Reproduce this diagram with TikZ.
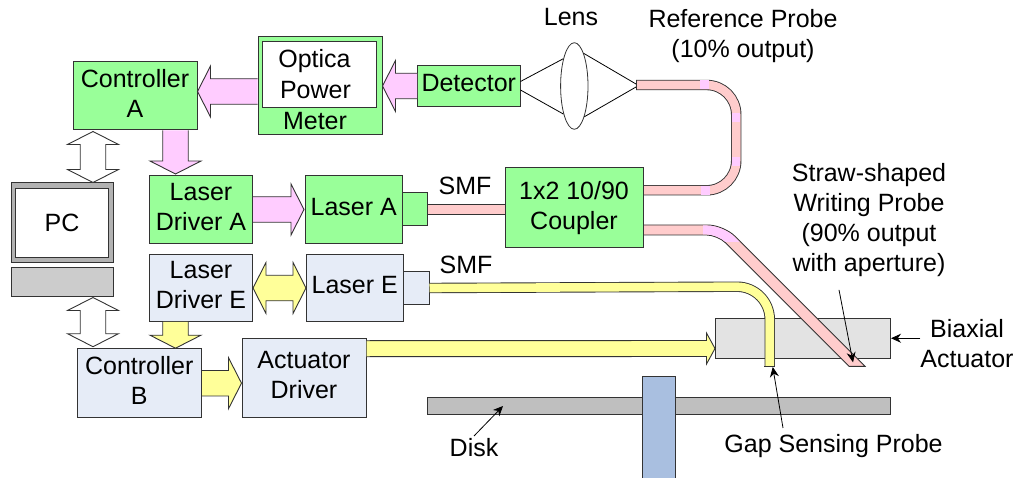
\documentclass[tikz,border=0pt]{standalone}
\usepackage{fontspec}
\setmainfont{Liberation Sans}
\usepackage{tikz}
\usetikzlibrary{arrows.meta,shapes,calc}

\definecolor{boxgreen}{HTML}{99FF99}
\definecolor{boxblue}{HTML}{E6ECF7}
\definecolor{armpink}{HTML}{FFCCFF}
\definecolor{armyellow}{HTML}{FFFF99}
\definecolor{fiberpink}{HTML}{FFCCCC}
\definecolor{spindleblue}{HTML}{A9BFE0}

\newcommand{\shaftw}{12.75pt}
\newcommand{\headw}{25.5pt}
\newcommand{\headl}{13pt}

\newcommand{\fatarrow}[3][armpink]{
  \path (#2) coordinate (fs) (#3) coordinate (ft);
  \draw[fat,fill=#1] ($(fs)!\shaftw!90:(ft)$)
    -- ($(ft)!\headl!(fs)!\shaftw!90:(ft)$)
    -- ($(ft)!\headl!(fs)!\headw!90:(ft)$)
    -- (ft)
    -- ($(ft)!\headl!(fs)!\headw!-90:(ft)$)
    -- ($(ft)!\headl!(fs)!\shaftw!-90:(ft)$)
    -- ($(fs)!\shaftw!-90:(ft)$);
}
\newcommand{\fatdouble}[3][white]{
  \path (#2) coordinate (fs) (#3) coordinate (ft);
  \draw[fat,fill=#1] (fs)
    -- ($(fs)!\headl!(ft)!\headw!90:(ft)$)
    -- ($(fs)!\headl!(ft)!\shaftw!90:(ft)$)
    -- ($(ft)!\headl!(fs)!\shaftw!90:(ft)$)
    -- ($(ft)!\headl!(fs)!\headw!90:(ft)$)
    -- (ft)
    -- ($(ft)!\headl!(fs)!\headw!-90:(ft)$)
    -- ($(ft)!\headl!(fs)!\shaftw!-90:(ft)$)
    -- ($(fs)!\headl!(ft)!\shaftw!-90:(ft)$)
    -- ($(fs)!\headl!(ft)!\headw!-90:(ft)$)
    -- cycle;
}

\begin{document}
\begin{tikzpicture}[x=1pt,y=1pt,>={Stealth[length=10pt,width=9pt]},
    every node/.style={font=\fontsize{25}{30}\selectfont,align=center,inner sep=0pt}]
  \tikzstyle{box}=[rectangle,draw=black!80,line width=1pt,text depth=5.5pt]
  \tikzstyle{green box}=[box,fill=boxgreen]
  \tikzstyle{blue box}=[box,fill=boxblue]
  \tikzstyle{fat}=[draw=black!80,line width=.9pt,line join=miter]
  \tikzstyle{fiber}=[draw=black!80,line width=.9pt,double distance=8.6pt]
  \tikzstyle{pink fiber}=[fiber,double=fiberpink]
  \tikzstyle{yellow fiber}=[fiber,double=armyellow]
  \tikzstyle{pointer}=[->,line width=.8pt]

  \useasboundingbox (0,0) rectangle (1016,-478);

  \coordinate (refEnd) at (636,-85);
  \coordinate (gapEnd) at (769.75,-366);
  \coordinate (writeEnd) at (857,-366.3);

  % stage and disk
  \node [rectangle,draw=black!80,line width=1pt,fill=black!11,minimum width=175pt,minimum height=40.5pt]
    (actuator) at (803,-338.25) {};
  \node [rectangle,draw=black!80,line width=1pt,fill=black!25,minimum width=463pt,minimum height=17.4pt]
    (disk) at (659,-406) {};
  \node [rectangle,draw=black!80,line width=1pt,fill=spindleblue,minimum width=33pt,minimum height=101.5pt]
    (spindle) at (659,-427.25) {};

  % fibers first, the boxes sit on their ends
  \draw [pink fiber] (refEnd) -- (706.7,-85) arc[start angle=90,end angle=0,radius=29.5]
    -- (736.2,-160.8) arc[start angle=0,end angle=-90,radius=29.5] -- (640,-190.3);
  \draw [draw=black!80,line width=.9pt] ([yshift=5.2pt]refEnd) -- ([yshift=-5.2pt]refEnd);
  \foreach \x/\y/\w/\h in {700/80.5/9.3/9, 701/185.8/9/9, 732/113/8.4/9, 732/157/8.4/9}
    \fill [armpink] (\x,-\y) rectangle ++(\w,-\h);

  \path [fill=fiberpink,draw=black!80,line width=.9pt] (640,-225) [rounded corners=16pt] -- (723.7,-225)
    [sharp corners] -- (865,-366.3) -- (849,-366.3) [rounded corners=11pt] -- (717.7,-235)
    [sharp corners] -- (640,-235) -- cycle;
  \begin{scope}
    \clip (703,-225.5) rectangle (760,-241);
    \path [fill=armpink] (640,-225.5) [rounded corners=16pt] -- (723.2,-225.5)
      [sharp corners] -- (865,-367) -- (850,-367) [rounded corners=11pt] -- (718,-234.5)
      [sharp corners] -- (640,-234.5) -- cycle;
  \end{scope}

  \node [green box,minimum width=138pt,minimum height=79.5pt] (coupler) at (574,-207.75) {1x2 10/90\\Coupler};
  \node [green box,minimum width=124pt,minimum height=68pt] (ctrlA) at (135,-96) {Controller\\A};
  \node [green box,minimum width=124pt,minimum height=98pt] (opm) at (320,-86) {};
  \node [rectangle,draw=black!80,line width=1pt,fill=white,minimum width=113.5pt,minimum height=66.5pt]
    (opmInner) at (319.25,-74.75) {};
  \node (opmText) at (314.5,-68) [anchor=base] {Optica};
  \node (opmPower) [anchor=base] at (315.5,-99) {Power};
  \node (opmMeter) [anchor=base] at (315,-130) {Meter};
  \node [green box,minimum width=102.5pt,minimum height=41pt] (detector) [right of=opm,node distance=148.75pt] {Detector};

  \node [green box,minimum width=103pt,minimum height=67pt] (driverA) at (201,-209.5) {Laser\\Driver A};
  \node [green box,minimum width=96.5pt,minimum height=67pt] (laserA) [right of=driverA,node distance=152.75pt] {Laser A};
  \node [green box,minimum width=25.5pt,minimum height=33pt] (portA) [right of=laserA,node distance=61pt] {};

  \node [blue box,minimum width=103pt,minimum height=66.6pt] (driverB) [below of=driverA,node distance=78.5pt] {Laser\\Driver E};
  \node [blue box,minimum width=96.5pt,minimum height=66.6pt] (laserB) [right of=driverB,node distance=153.75pt] {Laser E};
  \node [blue box,minimum width=26pt,minimum height=32.5pt] (portB) [right of=laserB,node distance=61.25pt] {};
  \node [blue box,minimum width=124.5pt,minimum height=69pt] (ctrlB) at (139.25,-383.2) {Controller\\B};
  \node [blue box,minimum width=124pt,minimum height=79.2pt] (actDriver) at (304,-378) {Actuator\\Driver};

  \node [rectangle,draw=black!80,line width=1pt,fill=black!30,minimum width=102pt,minimum height=79.5pt] (pc) at (62,-222.75) {};
  \node [rectangle,draw=black!80,line width=1pt,fill=white,minimum width=93.5pt,minimum height=68.5pt] (pcInner) at (pc) {PC};
  \node [rectangle,draw=black!80,line width=1pt,fill=black!20,minimum width=102pt,minimum height=29pt] (pcBase) [below of=pc,node distance=58.75pt] {};

  \draw [yellow fiber] (portB.east) -- (737,-286.7) arc[start angle=90,end angle=0,radius=32.75] -- (gapEnd);
  \draw [draw=black!80,line width=.9pt] ([xshift=-5.3pt]gapEnd) -- ([xshift=5.3pt]gapEnd);
  \draw [pink fiber] (portA.east) -- (portA.east -| coupler.west);

  % fat arrows
  \fatarrow{[yshift=-5.5pt]opm.west}{[yshift=4.5pt]ctrlA.east}
  \fatarrow{detector.west}{opm.east}
  \fatarrow{[xshift=40.5pt]ctrlA.south}{[xshift=-25.5pt,yshift=1.5pt]driverA.north}
  \fatarrow{driverA.east}{[xshift=-1pt]laserA.west}
  \fatdouble[armyellow]{driverB.east}{laserB.west}
  \fatarrow[armyellow]{[xshift=-25.5pt]driverB.south}{[xshift=36.25pt]ctrlB.north}
  \fatarrow[armyellow]{ctrlB.east}{actDriver.west |- ctrlB.east}
  \fatdouble{[xshift=-42pt,yshift=-1pt]ctrlA.south}{[xshift=31pt]pc.north}
  \fatdouble{[xshift=31pt,yshift=-1pt]pcBase.south}{[xshift=-46.25pt,yshift=1.5pt]ctrlB.north}
  {\renewcommand{\shaftw}{8pt}\renewcommand{\headw}{15.5pt}\renewcommand{\headl}{8.5pt}
  \fatarrow[armyellow]{[yshift=29.3pt]actDriver.east}{[yshift=-10.25pt]actuator.west}}

  % lens
  \node [ellipse,draw=black!80,line width=.8pt,fill=white,minimum width=27.4pt,minimum height=86.6pt] (lens) at (574.3,-86) {};
  \draw [line width=.8pt] ([yshift=4.5pt]detector.east) -- (lens.112);
  \draw [line width=.8pt] ([yshift=-4pt]detector.east) -- (lens.249);
  \draw [line width=.8pt] (lens.74) -- ([yshift=1pt]refEnd);
  \draw [line width=.8pt] (lens.288) -- ([yshift=-2pt]refEnd);

  % labels
  \node (lensLabel) [anchor=base] at (571,-26) {Lens};
  \node (refLabel) at (743,-36.5) {Reference Probe\\(10\% output)};
  \node (smfA) [anchor=base] at (465,-194.3) {SMF};
  \node (smfB) [anchor=base] at (466,-273) {SMF};
  \node (strawLabel) at (869,-220) {Straw-shaped\\Writing Probe\\(90\% output\\with aperture)};
  \node (biaxLabel) at (967,-343.5) {Biaxial\\Actuator};
  \node (diskLabel) [anchor=base] at (474,-456.3) {Disk};
  \node (gapLabel) [anchor=base] at (833.5,-452.3) {Gap Sensing Probe};

  \draw [pointer] ([yshift=2pt]diskLabel.north) -- ([xshift=-156pt]disk.center);
  \draw [pointer] ([shift={(-50.5pt,6pt)}]gapLabel.north) -- ([xshift=3pt,yshift=-1pt]gapEnd);
  \draw [pointer] ([shift={(-30pt,-13pt)}]strawLabel.south) -- ([shift={(-4pt,4pt)}]writeEnd);
  \draw [pointer] (biaxLabel.west |- actuator.east) -- (actuator.east);
\end{tikzpicture}
\end{document}
